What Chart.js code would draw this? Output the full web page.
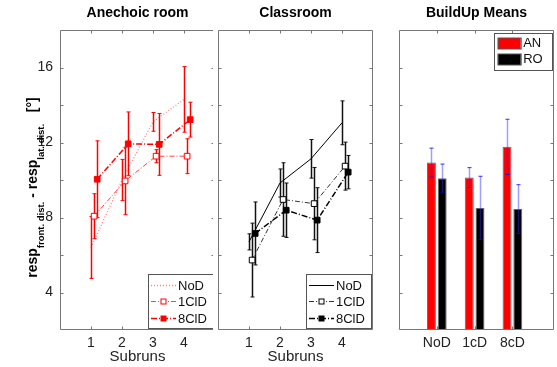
<!DOCTYPE html>
<html lang="en">
<head>
<meta charset="UTF-8" />
<title>BuildUp</title>
<style>
  body { margin: 0; background: #fff; }
  canvas.panel { position: absolute; top: 0; background: #fff; }
  #anechoic { left: 0; }
  #classroom { left: 213px; }
  #means { left: 390px; }
</style>
</head>
<body>
<canvas id="anechoic" class="panel" width="220" height="367"></canvas>
<canvas id="classroom" class="panel" width="165" height="367"></canvas>
<canvas id="means" class="panel" width="167" height="367"></canvas>

<script src="https://cdn.jsdelivr.net/npm/chart.js"></script>
<script>
const subruns = [1, 2, 3, 4];
const yTicks = [4, 6, 8, 10, 12, 14, 16];
// the delay conditions were plotted slightly right of each subrun
const shift1ClD = 0.1;
const shift8ClD = 0.2;

// anechoic room: means and error half-widths per subrun
const anNoD = [6.4, 10.0, 13.1, 14.3];
const anNoDErr = [1.65, 1.1, 0.5, 1.75];
const an1ClD = [8.07, 9.95, 11.27, 11.27];
const an1ClDErr = [1.2, 1.8, 0.35, 0.93];
const an8ClD = [10.04, 11.93, 11.9, 13.22];
const an8ClDErr = [2.05, 1.7, 1.65, 0.93];

// classroom
const roNoD = [6.7, 9.84, 11.13, 13.05];
const roNoDErr = [0.43, 0.75, 1.03, 1.17];
const ro1ClD = [5.73, 8.96, 8.74, 10.74];
const ro1ClDErr = [1.97, 1.96, 1.93, 1.28];
const ro8ClD = [7.15, 8.39, 7.86, 10.42];
const ro8ClDErr = [1.68, 1.45, 1.73, 0.89];

// buildup means per condition
const groups = ['NoD', '1cD', '8cD'];
const meanAN = [10.93, 10.13, 11.77];
const meanANErr = [0.77, 0.53, 1.47];
const meanRO = [10.1, 8.51, 8.45];
const meanROErr = [0.75, 1.69, 1.3];

Chart.defaults.font.family = '"Liberation Sans", Arial, Helvetica, sans-serif';
Chart.defaults.color = '#222';
Chart.defaults.animation = false;

const pts = (vals, shift) => subruns.map((s, i) => ({ x: s + shift, y: vals[i] }));

// vertical error bars with small caps
const errorBars = {
  id: 'errorBars',
  draw(chart, onTop) {
    const { ctx, scales: { y } } = chart;
    chart.data.datasets.forEach((ds, i) => {
      if (!ds.errors || !!ds.errorsOnTop !== onTop) return;
      const meta = chart.getDatasetMeta(i);
      ctx.save();
      ctx.beginPath();
      ctx.rect(chart.chartArea.left, chart.chartArea.top, chart.chartArea.right - chart.chartArea.left, chart.chartArea.bottom - chart.chartArea.top);
      ctx.clip();
      meta.data.forEach((el, j) => {
        const v = ds.data[j].y, e = ds.errors[j];
        const x = Math.round(el.x) + 0.5;
        const t = y.getPixelForValue(v + e), b = y.getPixelForValue(v - e);
        ctx.strokeStyle = ds.errorColor;
        ctx.lineWidth = ds.errorWidth;
        ctx.beginPath();
        ctx.moveTo(x, t); ctx.lineTo(x, b);
        ctx.stroke();
        ctx.strokeStyle = ds.capColor || ds.errorColor;
        ctx.lineWidth = 1;
        ctx.beginPath();
        ctx.moveTo(x - 2, t); ctx.lineTo(x + 2, t);
        ctx.moveTo(x - 2, b); ctx.lineTo(x + 2, b);
        ctx.stroke();
      });
      ctx.restore();
    });
  },
  beforeDatasetsDraw(chart) { this.draw(chart, false); },
  afterDatasetsDraw(chart) { this.draw(chart, true); }
};

// axes box with inward tick marks on all four sides
const frame = {
  id: 'frame',
  afterDraw(chart) {
    const { ctx, chartArea: a, scales: { x, y } } = chart;
    const L = Math.round(a.left) + 0.5, R = Math.round(a.right) - 0.5;
    const T = Math.round(a.top) + 0.5, B = Math.round(a.bottom) - 0.5;
    ctx.save();
    ctx.strokeStyle = '#777';
    ctx.lineWidth = 1;
    ctx.beginPath();
    x.ticks.forEach(t => {
      const px = Math.round(x.getPixelForValue(t.value)) + 0.5;
      ctx.moveTo(px, T); ctx.lineTo(px, T + 3);
      ctx.moveTo(px, B); ctx.lineTo(px, B - 3);
    });
    y.ticks.forEach(t => {
      const py = Math.round(y.getPixelForValue(t.value)) + 0.5;
      ctx.moveTo(L, py); ctx.lineTo(L + 3, py);
      ctx.moveTo(R, py); ctx.lineTo(R - 3, py);
    });
    ctx.rect(L, T, R - L, B - T);
    ctx.stroke();
    ctx.restore();
  }
};

// boxed legend drawn from the dataset styles
const boxLegend = {
  id: 'boxLegend',
  afterDraw(chart, args, opts) {
    const { ctx, chartArea: a } = chart;
    const left = a.right - opts.right - opts.width;
    const top = opts.corner === 'top' ? a.top + opts.inset : a.bottom - opts.inset - opts.height;
    ctx.save();
    ctx.fillStyle = '#fff';
    ctx.strokeStyle = '#555';
    ctx.lineWidth = 1;
    ctx.fillRect(Math.round(left), Math.round(top), opts.width, opts.height);
    ctx.strokeRect(Math.round(left) + 0.5, Math.round(top) + 0.5, opts.width, opts.height);
    ctx.font = '13px "Liberation Sans", Arial, sans-serif';
    ctx.textBaseline = 'middle';
    chart.data.datasets.forEach((ds, i) => {
      const cy = Math.round(top + opts.rows[i]) + 0.5;
      if (chart.config.type === 'bar') {
        ctx.fillStyle = ds.backgroundColor;
        ctx.fillRect(left + 4, cy - 5.5, 23, 11);
        ctx.strokeStyle = '#555';
        ctx.strokeRect(left + 4.5, cy - 5.5, 23, 11);
        ctx.fillStyle = '#111';
        ctx.fillText(ds.label, left + 29.5, cy);
        return;
      }
      ctx.strokeStyle = ds.borderColor;
      ctx.lineWidth = ds.borderWidth;
      ctx.setLineDash(ds.borderDash || []);
      ctx.beginPath();
      ctx.moveTo(left + 3, cy); ctx.lineTo(left + 28, cy);
      ctx.stroke();
      ctx.setLineDash([]);
      if (ds.pointRadius > 0) {
        ctx.fillStyle = ds.pointBackgroundColor;
        ctx.strokeStyle = ds.pointBorderColor;
        ctx.lineWidth = 1;
        ctx.fillRect(left + 13, cy - 2.5, 5, 5);
        ctx.strokeRect(left + 13, cy - 2.5, 5, 5);
      }
      ctx.fillStyle = '#111';
      ctx.fillText(ds.label, left + 30, cy + 0.5);
    });
    ctx.restore();
  }
};

// y axis label with subscripts, rotated
const yLabel = {
  id: 'yLabel',
  afterDraw(chart) {
    const { ctx } = chart;
    const big = 'bold 14px "Liberation Sans", Arial, sans-serif';
    const small = 'bold 9.5px "Liberation Sans", Arial, sans-serif';
    const parts = [
      ['resp', big, 0], ['front. dist.', small, 6.5], [' - ', big, 0],
      ['resp', big, 0], ['lat. dist.', small, 6.5], ['   [°]', big, 0]
    ];
    let total = 0;
    parts.forEach(([t, f]) => { ctx.font = f; total += ctx.measureText(t).width; });
    ctx.save();
    ctx.translate(37, 187.5);
    ctx.rotate(-Math.PI / 2);
    ctx.fillStyle = '#000';
    ctx.textBaseline = 'alphabetic';
    let x = -total / 2;
    parts.forEach(([t, f, dy]) => {
      ctx.font = f;
      ctx.fillText(t, x, dy);
      x += ctx.measureText(t).width;
    });
    ctx.restore();
  }
};

function yScale(width, showLabels) {
  return {
    type: 'linear', min: 2, max: 18,
    grid: { display: false, drawTicks: false }, border: { display: false },
    afterBuildTicks: s => { s.ticks = yTicks.map(v => ({ value: v })); },
    afterFit: s => { s.width = width; },
    ticks: { display: showLabels, padding: 7, font: { size: 14 }, color: '#222',
             callback: v => (v % 4 === 0 ? v : '') }
  };
}

function xScale(max, values, labels, title) {
  return {
    type: 'linear', min: 0, max: max, offset: false,
    grid: { display: false, drawTicks: false }, border: { display: false },
    afterBuildTicks: s => { s.ticks = values.map(v => ({ value: v })); },
    afterFit: s => { s.height = 37; },
    ticks: { padding: 5, font: { size: 14 }, color: '#222', maxRotation: 0, autoSkip: false,
             callback: (v, i) => labels[i] },
    title: { display: !!title, text: title, color: '#222', font: { size: 15, lineHeight: 1.2 },
             padding: { top: 0, bottom: 1 } }
  };
}

function titleOpts(text) {
  return { display: true, text: text, fullSize: false, color: '#000',
           font: { size: 14, weight: 'bold', lineHeight: 1.2 }, padding: { top: 4.6, bottom: 8.6 } };
}

const lineLegend = { right: 2, width: 65, height: 54, corner: 'bottom', inset: 2, rows: [10.5, 27, 43.5] };

function lineDatasets(color, faint, sets) {
  const [noD, noDErr, c1, c1Err, c8, c8Err] = sets;
  return [
    { label: 'NoD', data: pts(noD, 0), errors: noDErr,
      borderColor: faint.noD, borderWidth: faint.noDWidth, borderDash: faint.noDDash,
      pointRadius: 0, errorColor: faint.err, errorWidth: 1.5 },
    { label: '1ClD', data: pts(c1, shift1ClD), errors: c1Err,
      borderColor: faint.c1, borderWidth: 1, borderDash: [5, 2, 1, 2],
      pointStyle: 'rect', pointRadius: 4, pointBorderWidth: 1,
      pointBackgroundColor: '#fff', pointBorderColor: color, errorColor: faint.err, errorWidth: 1.5 },
    { label: '8ClD', data: pts(c8, shift8ClD), errors: c8Err,
      borderColor: color, borderWidth: 1.5, borderDash: [6, 2, 1, 2],
      pointStyle: 'rect', pointRadius: 4, pointBorderWidth: 1,
      pointBackgroundColor: color, pointBorderColor: color, errorColor: faint.err, errorWidth: 1.5 }
  ];
}

new Chart(document.getElementById('anechoic'), {
  type: 'line',
  data: {
    datasets: lineDatasets('#ff0000',
      { noD: 'rgba(255,0,0,0.5)', noDWidth: 1.3, noDDash: [1, 2], c1: 'rgba(255,0,0,0.75)', err: '#ff0000' },
      [anNoD, anNoDErr, an1ClD, an1ClDErr, an8ClD, an8ClDErr])
  },
  options: {
    responsive: false, events: [],
    layout: { padding: { left: 0, right: 3.7, top: 0, bottom: 0 } },
    scales: { x: xScale(5, subruns, subruns, 'Subruns'), y: yScale(60, true) },
    plugins: { legend: { display: false }, tooltip: { enabled: false },
               title: titleOpts('Anechoic room'), boxLegend: lineLegend }
  },
  plugins: [errorBars, frame, boxLegend, yLabel]
});

new Chart(document.getElementById('classroom'), {
  type: 'line',
  data: {
    datasets: lineDatasets('#000',
      { noD: '#000', noDWidth: 1, noDDash: [], c1: '#333', err: '#111' },
      [roNoD, roNoDErr, ro1ClD, ro1ClDErr, ro8ClD, ro8ClDErr])
  },
  options: {
    responsive: false, events: [],
    layout: { padding: { left: 0, right: 3, top: 0, bottom: 0 } },
    scales: { x: xScale(5, subruns, subruns, 'Subruns'), y: yScale(0.8, false) },
    plugins: { legend: { display: false }, tooltip: { enabled: false },
               title: titleOpts('Classroom'), boxLegend: lineLegend }
  },
  plugins: [errorBars, frame, boxLegend]
});

const groupPos = groups.map((g, i) => i + 1);
new Chart(document.getElementById('means'), {
  type: 'bar',
  data: {
    datasets: [
      { label: 'AN', data: groupPos.map((p, i) => ({ x: p, y: meanAN[i] })), errors: meanANErr,
        backgroundColor: '#ff0000', borderColor: '#666', borderWidth: 1,
        categoryPercentage: 0.57, barPercentage: 0.83,
        errorsOnTop: true, errorColor: 'rgba(40,40,255,0.45)', capColor: 'rgba(0,0,255,0.8)', errorWidth: 1.5 },
      { label: 'RO', data: groupPos.map((p, i) => ({ x: p, y: meanRO[i] })), errors: meanROErr,
        backgroundColor: '#000', borderColor: '#666', borderWidth: 1,
        categoryPercentage: 0.57, barPercentage: 0.83,
        errorsOnTop: true, errorColor: 'rgba(40,40,255,0.45)', capColor: 'rgba(0,0,255,0.8)', errorWidth: 1.5 }
    ]
  },
  options: {
    responsive: false, events: [],
    layout: { padding: { left: 0, right: 3, top: 0, bottom: 0 } },
    scales: { x: xScale(4.1, groupPos, groups, ''), y: yScale(9, false) },
    plugins: { legend: { display: false }, tooltip: { enabled: false },
               title: titleOpts('BuildUp Means'),
               boxLegend: { right: 2.3, width: 58, height: 37, corner: 'top', inset: 3.3, rows: [9.5, 25.8] } }
  },
  plugins: [errorBars, frame, boxLegend]
});
</script>
</body>
</html>
